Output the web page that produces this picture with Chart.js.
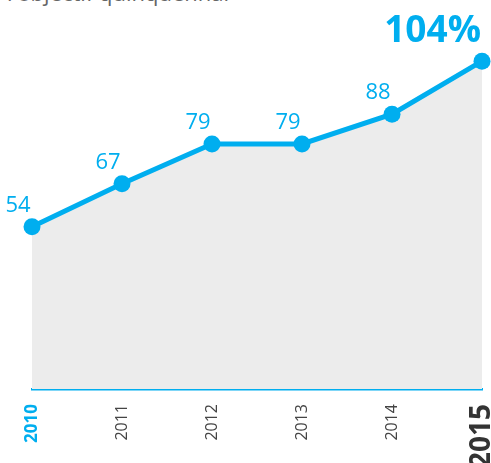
<!DOCTYPE html>
<html>
<head>
<meta charset="utf-8">
<script src="https://cdn.jsdelivr.net/npm/chart.js@4/dist/chart.umd.min.js"></script>
<style>
  body { margin: 0; background: #fff; }
  .wrap { position: relative; width: 491px; height: 463px; overflow: hidden; }
  .titre {
    position: absolute; left: 7px; top: -23px;
    font-family: 'Open Sans', sans-serif; font-size: 22px; color: #666;
    white-space: nowrap;
  }
  canvas { position: absolute; left: 0; top: 0; }
</style>
</head>
<body>
<div class="wrap">
  <div class="titre">l'objectif quinquennal</div>
  <canvas id="c" width="491" height="463"></canvas>
</div>
<script>
const ANNEES = ['2010', '2011', '2012', '2013', '2014', '2015'];
const VALEURS = [54, 67, 79, 79, 88, 104];
const ETIQUETTES = ['54', '67', '79', '79', '88', '104%'];

const BLEU = '#00AEEF';
const GRIS_FOND = '#ECECEC';
const POLICE = "'Open Sans', sans-serif";

// étiquettes de valeur au-dessus de chaque point
const etiquettesValeurs = {
  id: 'etiquettesValeurs',
  afterDatasetsDraw(chart) {
    const ctx = chart.ctx;
    const meta = chart.getDatasetMeta(0);
    const dernier = meta.data.length - 1;
    ctx.save();
    ctx.fillStyle = BLEU;
    ctx.textBaseline = 'alphabetic';
    meta.data.forEach((pt, i) => {
      if (i === dernier) {
        ctx.font = 'bold 37px ' + POLICE;
        ctx.textAlign = 'right';
        ctx.fillText(ETIQUETTES[i], pt.x - 1, pt.y - 19);
      } else {
        ctx.font = '22px ' + POLICE;
        ctx.textAlign = 'center';
        ctx.fillText(ETIQUETTES[i], pt.x - 14, pt.y - 15);
      }
    });
    ctx.restore();
  },
};

new Chart(document.getElementById('c'), {
  type: 'line',
  data: {
    labels: ANNEES,
    datasets: [{
      data: VALEURS,
      borderColor: BLEU,
      borderWidth: 5,
      backgroundColor: GRIS_FOND,
      fill: 'start',
      tension: 0,
      pointRadius: 8.5,
      pointHoverRadius: 8.5,
      pointBackgroundColor: BLEU,
      pointBorderWidth: 0,
      clip: false,
    }],
  },
  options: {
    responsive: false,
    animation: false,
    events: [],
    layout: { padding: { left: 32, right: 9, top: 38, bottom: 0 } },
    plugins: { legend: { display: false }, tooltip: { enabled: false } },
    scales: {
      y: { display: false, min: 5, max: 111 },
      x: {
        offset: false,
        grid: { display: false, drawTicks: false },
        border: { display: true, color: BLEU, width: 2.5 },
        ticks: {
          autoSkip: false,
          minRotation: 90,
          maxRotation: 90,
          padding: 15,
          color: (c) => (c.index === 0 ? BLEU : c.index === ANNEES.length - 1 ? '#333' : '#444'),
          font: (c) => {
            if (c.index === 0) return { family: POLICE, size: 17, weight: 'bold' };
            if (c.index === ANNEES.length - 1) return { family: POLICE, size: 28, weight: 'bold' };
            return { family: POLICE, size: 16 };
          },
        },
        afterFit: (scale) => {
          scale.height = 74;
          scale.paddingLeft = 0;
          scale.paddingRight = 0;
        },
      },
    },
  },
  plugins: [etiquettesValeurs],
});
</script>
</body>
</html>
